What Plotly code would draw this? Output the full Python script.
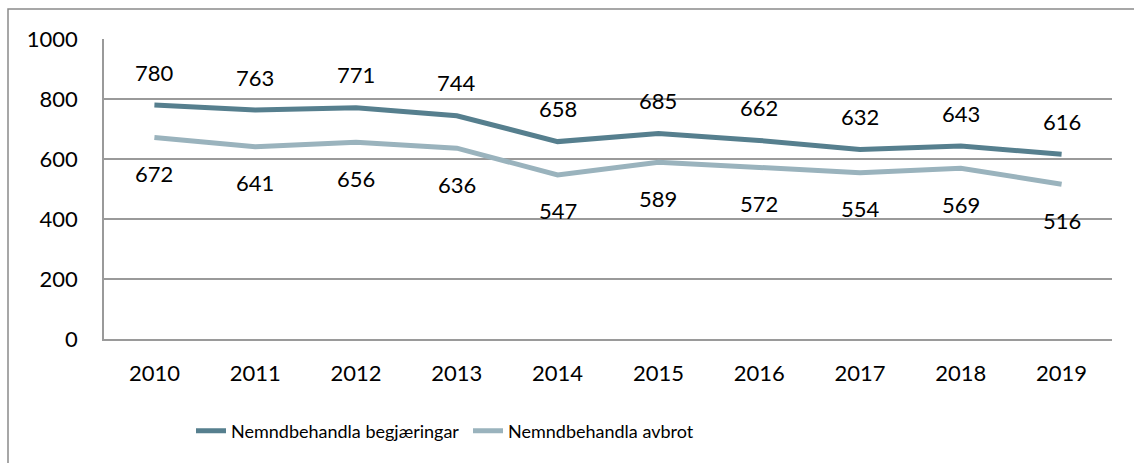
import plotly.graph_objects as go

years = ["2010", "2011", "2012", "2013", "2014", "2015", "2016", "2017", "2018", "2019"]
begjaeringar = [780, 763, 771, 744, 658, 685, 662, 632, 643, 616]
avbrot = [672, 641, 656, 636, 547, 589, 572, 554, 569, 516]
y_ticks = [0, 200, 400, 600, 800, 1000]

name_a = "Nemndbehandla begjæringar"
name_b = "Nemndbehandla avbrot"
col_a = "#567F8E"
col_b = "#9AB3BD"
num_font = dict(family="Lato, Carlito, sans-serif", size=22, color="#000000")

W, H = 1134, 463
L, R, T, B = 104, 22, 39, 124
pw, ph = W - L - R, H - T - B

fig = go.Figure()
fig.add_trace(go.Scatter(x=years, y=begjaeringar, mode="lines", name=name_a,
                         line=dict(color=col_a, width=5)))
fig.add_trace(go.Scatter(x=years, y=avbrot, mode="lines", name=name_b,
                         line=dict(color=col_b, width=5)))

ann = []
for i, yv in enumerate(begjaeringar):
    ann.append(dict(x=i, y=yv, xref="x", yref="y", text=str(yv), showarrow=False, yshift=33,
                    yanchor="middle", font=num_font))
for i, yv in enumerate(avbrot):
    ann.append(dict(x=i, y=yv, xref="x", yref="y", text=str(yv), showarrow=False, yshift=-36,
                    yanchor="middle", font=num_font))

def px_x(p):
    return (p - L) / pw

def px_y(p):
    return (T + ph - p) / ph

fig.update_layout(
    width=W, height=H,
    margin=dict(l=L, r=R, t=T, b=B),
    paper_bgcolor="white", plot_bgcolor="white",
    showlegend=True,
    legend=dict(orientation="h", x=px_x(191), y=px_y(431), xanchor="left", yanchor="middle",
                font=dict(family="Lato, sans-serif", size=18, color="#000000"),
                entrywidth=232, entrywidthmode="pixels",
                bgcolor="rgba(0,0,0,0)"),
    annotations=ann,
    shapes=[dict(type="rect", xref="paper", yref="paper",
                 x0=px_x(8), x1=px_x(1145), y0=px_y(475), y1=px_y(9),
                 line=dict(color="#8A8A8A", width=1.5), fillcolor="rgba(0,0,0,0)", layer="below")],
    xaxis=dict(type="category", range=[-0.5, 9.5], showgrid=False, showline=True,
               linecolor="#9A9A9A", linewidth=1.5, ticks="", tickfont=num_font,
               ticklabelstandoff=14, zeroline=False, fixedrange=True),
    yaxis=dict(range=[0, 1000], tickvals=y_ticks, ticktext=[str(v) for v in y_ticks],
               showgrid=True, gridcolor="#9A9A9A", gridwidth=1.5, showline=True,
               linecolor="#9A9A9A", linewidth=1.5, ticks="", tickfont=num_font,
               ticklabelstandoff=20, zeroline=False, fixedrange=True),
)

fig.write_html("out.html")
